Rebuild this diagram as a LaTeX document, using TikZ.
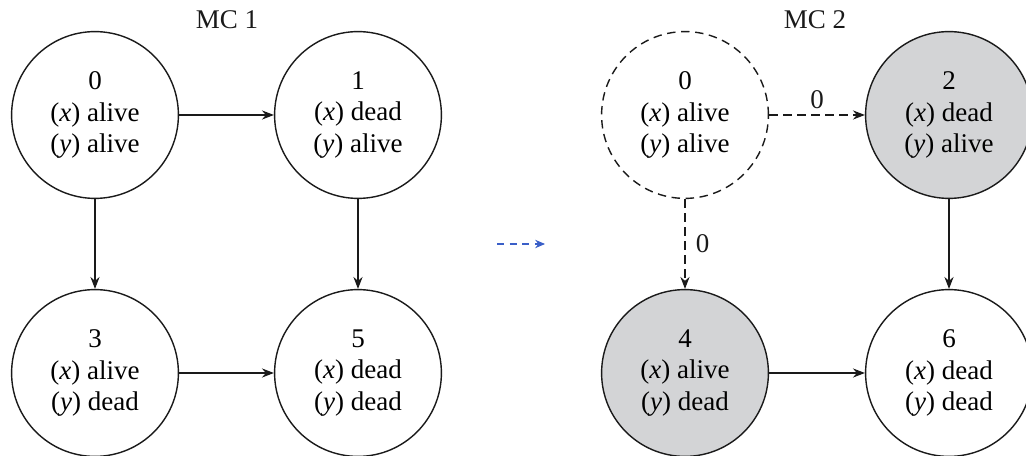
\documentclass[tikz,border=0pt]{standalone}
\usepackage{fontspec}
\setmainfont{Liberation Serif}
\usetikzlibrary{arrows.meta,positioning}
\definecolor{Ink}{HTML}{1A1A1A}
\definecolor{Absorb}{HTML}{D3D4D6}
\definecolor{Link}{HTML}{3A5FC8}

\begin{document}
\begin{tikzpicture}[
  state/.style={circle,draw=Ink,line width=1pt,minimum size=4.17cm,inner sep=0pt,align=center,
    font=\fontsize{19.2}{22.2}\selectfont},
  dead/.style={state,fill=Absorb},
  ghost/.style={state,dashed,dash pattern=on 6pt off 4pt},
  trans/.style={draw=Ink,line width=0.8pt,-{Stealth[length=8.5pt,width=6.5pt]}},
  lost/.style={trans,dash pattern=on 6pt off 4pt},
  rate/.style={font=\fontsize{19.2}{22}\selectfont,text=Ink},
  title/.style={font=\fontsize{19.2}{22}\selectfont,text=Ink}
]
\useasboundingbox (0,0) rectangle (25.65,11.4);
% first chain
\node[state] (a0) at (2.375,8.525) {0\\(\textit{x}) alive\\(\textit{y}) alive};
\node[state] (a1) at (8.95,8.525) {1\\(\textit{x}) dead\\(\textit{y}) alive};
\node[state] (a3) at (2.375,2.075) {3\\(\textit{x}) alive\\(\textit{y}) dead};
\node[state] (a5) at (8.95,2.075) {5\\(\textit{x}) dead\\(\textit{y}) dead};
\node[title] at (5.675,10.9) {MC 1};
\draw[trans] (a0) -- (a1);
\draw[trans] (a0) -- (a3);
\draw[trans] (a1) -- (a5);
\draw[trans] (a3) -- (a5);
% second chain
\node[ghost] (b0) at (17.125,8.525) {0\\(\textit{x}) alive\\(\textit{y}) alive};
\node[dead] (b2) at (23.725,8.525) {2\\(\textit{x}) dead\\(\textit{y}) alive};
\node[dead] (b4) at (17.125,2.075) {4\\(\textit{x}) alive\\(\textit{y}) dead};
\node[state] (b6) at (23.725,2.075) {6\\(\textit{x}) dead\\(\textit{y}) dead};
\node[title] at (20.375,10.9) {MC 2};
\draw[lost] (b0) -- node[rate,above=1pt] {0} (b2);
\draw[lost] (b0) -- node[rate,right=4pt] {0} (b4);
\draw[trans] (b2) -- (b6);
\draw[trans] (b4) -- (b6);
% reduction step
\coordinate (from) at (12.425,5.3);
\coordinate (to) at (13.625,5.3);
\draw[Link,line width=0.8pt,dash pattern=on 5pt off 4pt,-{Stealth[length=7pt,width=6pt]}] (from) -- (to);
\end{tikzpicture}
\end{document}
